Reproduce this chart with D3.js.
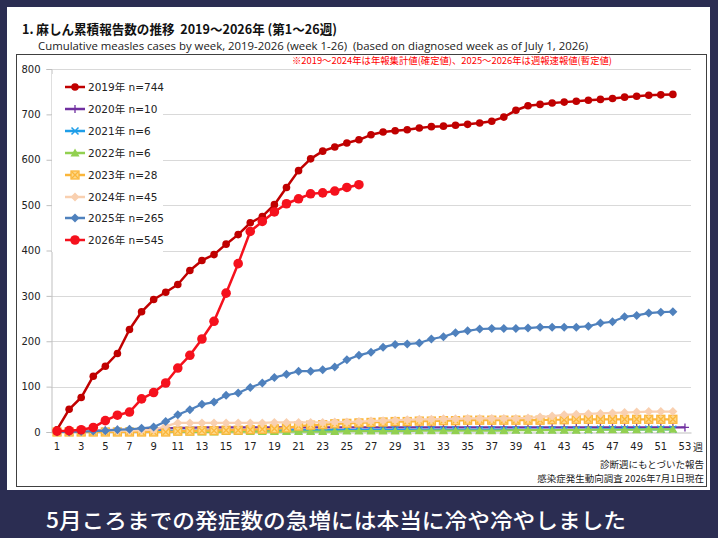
<!DOCTYPE html>
<html><head><meta charset="utf-8">
<script src="https://cdn.jsdelivr.net/npm/d3@7"></script>
<style>body{margin:0;background:#2b2d52;} svg{display:block}</style>
</head><body>
<svg id="c" width="718" height="538"></svg>
<script>
// ---- data ----
const weeks = d3.range(1, 54);
const xTickLabels = d3.range(1, 54, 2);
const yTicks = d3.range(0, 801, 100);
const seriesNames = ["2019年 n=744","2020年 n=10","2021年 n=6","2022年 n=6","2023年 n=28","2024年 n=45","2025年 n=265","2026年 n=545"];
const y2019 = [5,50,76,123,145,173,226,265,292,308,325,356,378,391,414,435,461,475,501,539,576,602,619,628,637,644,655,661,664,666,670,673,674,676,678,681,685,694,709,719,722,725,727,729,731,733,735,738,740,742,743,744];
const y2020 = [1,2,3,3,4,5,5,6,7,8,9,9,10,10,10,10,10,10,10,10,10,10,10,10,10,10,10,10,10,10,10,10,10,10,10,10,10,10,10,10,10,10,10,10,10,10,10,10,10,10,10,10,10];
const y2021 = [0,0,1,1,1,1,2,2,2,2,3,3,3,3,3,3,3,3,3,4,4,4,4,4,4,4,5,5,5,5,5,5,5,5,5,5,5,5,5,5,5,5,5,5,5,6,6,6,6,6,6,6];
const y2022 = [0,0,0,0,0,0,0,0,0,0,0,0,0,0,1,1,1,1,1,1,1,1,1,1,2,2,2,2,2,2,3,3,3,3,3,3,3,3,4,4,4,4,4,4,5,5,5,5,5,6,6,6];
const y2023 = [0,0,0,0,0,0,0,0,0,0,2,2,3,3,4,4,5,6,7,9,13,15,16,18,19,20,21,22,23,23,24,24,25,25,26,26,26,26,26,26,26,27,27,28,28,28,28,28,28,28,28,28];
const y2024 = [0,1,2,3,3,3,3,4,5,13,20,20,20,20,20,20,20,20,21,21,21,21,21,22,22,23,24,25,26,27,28,28,29,29,30,30,30,30,30,31,33,35,38,39,40,41,42,43,44,45,45,45];
const y2025 = [0,0,1,2,3,5,6,8,11,23,38,49,61,66,81,86,98,108,120,127,134,134,137,143,159,169,176,187,193,194,196,205,210,219,223,227,228,228,228,229,231,231,231,231,233,240,243,254,257,262,264,265];
const y2026 = [2,3,5,10,25,37,44,73,87,108,141,169,205,244,306,371,442,464,485,503,514,525,527,531,539,545];

const allSeries = [y2019,y2020,y2021,y2022,y2023,y2024,y2025,y2026];
const colors = ["#c00000","#7030a0","#1f9ee8","#92d050","#fbb63a","#f9d0b0","#4f81bd","#f5111d"];
const markers = ["circle","plus","times","triangle","sqx","diamond","diamond","bigcircle"];

// ---- layout ----
const svg = d3.select("#c");
svg.append("rect").attr("x",0).attr("y",0).attr("width",718).attr("height",538).attr("fill","#2b2d52");
svg.append("rect").attr("x",7).attr("y",7).attr("width",703).attr("height",483).attr("fill","#ffffff");
svg.append("rect").attr("x",16.5).attr("y",54.5).attr("width",690).attr("height",432).attr("fill","none").attr("stroke","#404040").attr("stroke-width",1);

svg.append("text").attr("x",22).attr("y",34).attr("font-family","'Noto Sans CJK JP'").attr("font-weight","bold")
  .attr("font-size",13).attr("fill","#111").attr("textLength",315).attr("lengthAdjust","spacingAndGlyphs")
  .style("white-space","pre")
  .text("1. 麻しん累積報告数の推移  2019～2026年 (第1～26週)");
svg.append("text").attr("x",38).attr("y",50).attr("font-family","'Open Sans'").attr("font-size",11.5)
  .attr("fill","#222").attr("textLength",550).attr("lengthAdjust","spacingAndGlyphs")
  .style("white-space","pre")
  .text("Cumulative measles cases by week, 2019-2026 (week 1-26)  (based on diagnosed week as of July 1, 2026)");
svg.append("text").attr("x",292).attr("y",64).attr("font-family","'Noto Sans CJK JP'").attr("font-size",9.5)
  .attr("fill","#ff0000").attr("textLength",320).attr("lengthAdjust","spacingAndGlyphs")
  .text("※2019～2024年は年報集計値(確定値)、2025～2026年は週報速報値(暫定値)");

const x = d3.scaleBand().domain(weeks).range([51,691]);
const cx = w => x(w) + x.bandwidth()/2;
const y = d3.scaleLinear().domain([0,800]).range([432,69]);

// gridlines
svg.append("g").selectAll("line").data(yTicks.filter(t=>t>0)).join("line")
  .attr("x1",51).attr("x2",691).attr("y1",d=>Math.round(y(d))+0.5).attr("y2",d=>Math.round(y(d))+0.5)
  .attr("stroke","#d9d9d9").attr("stroke-width",1);

// y axis
const yAxis = svg.append("g").attr("transform","translate(51.5,0)")
  .call(d3.axisLeft(y).tickValues(yTicks).tickSize(5).tickPadding(6));
yAxis.select(".domain").attr("stroke","#bfbfbf");
yAxis.selectAll(".tick line").attr("stroke","#bfbfbf");
yAxis.selectAll("text").attr("font-family","'DejaVu Sans'").attr("font-size",10).attr("fill","#222");

// x axis
const xAxis = svg.append("g").attr("transform","translate(0,432.5)")
  .call(d3.axisBottom(x).tickValues(xTickLabels).tickSize(0).tickPadding(10));
xAxis.select(".domain").attr("stroke","#bfbfbf");
xAxis.selectAll("text").attr("font-family","'DejaVu Sans'").attr("font-size",10).attr("fill","#222");
svg.append("text").attr("x",698).attr("y",451).attr("text-anchor","middle").attr("font-family","'Noto Sans CJK JP'")
  .attr("font-size",10).attr("fill","#222").text("週");

function drawMarker(g, type, color, px, py) {
  if (type === "circle") {
    g.append("circle").attr("cx",px).attr("cy",py).attr("r",3.8).attr("fill",color);
  } else if (type === "bigcircle") {
    g.append("circle").attr("cx",px).attr("cy",py).attr("r",4.8).attr("fill",color);
  } else if (type === "plus") {
    g.append("path").attr("d",`M${px-4},${py}H${px+4}M${px},${py-4}V${py+4}`).attr("stroke",color).attr("stroke-width",1.3);
  } else if (type === "times") {
    g.append("path").attr("d",`M${px-3.5},${py-3.5}L${px+3.5},${py+3.5}M${px-3.5},${py+3.5}L${px+3.5},${py-3.5}`).attr("stroke",color).attr("stroke-width",1.5);
  } else if (type === "triangle") {
    g.append("path").attr("d",`M${px},${py-4.5}L${px+4.5},${py+3.5}L${px-4.5},${py+3.5}Z`).attr("fill",color);
  } else if (type === "sqx") {
    g.append("rect").attr("x",px-4).attr("y",py-4).attr("width",8).attr("height",8).attr("fill","#fdd88a").attr("stroke",color).attr("stroke-width",1.3);
    g.append("path").attr("d",`M${px-3},${py-3}L${px+3},${py+3}M${px-3},${py+3}L${px+3},${py-3}`).attr("stroke",color).attr("stroke-width",1.3);
  } else if (type === "diamond") {
    g.append("path").attr("d",`M${px},${py-4.5}L${px+4.5},${py}L${px},${py+4.5}L${px-4.5},${py}Z`).attr("fill",color);
  }
}

// series
const line = d3.line().x((d,i)=>cx(i+1)).y(d=>y(d));
allSeries.forEach((s, k) => {
  const g = svg.append("g");
  g.append("path").datum(s).attr("d", line).attr("fill","none").attr("stroke",colors[k])
    .attr("stroke-width", k===0||k===7 ? 2.5 : 2.2).attr("stroke-linejoin","round");
  s.forEach((v,i) => drawMarker(g, markers[k], colors[k], cx(i+1), y(v)));
});

// legend
const lg = svg.append("g");
lg.append("rect").attr("x",52).attr("y",74).attr("width",111).attr("height",178).attr("fill","#fff");
const legendY = [87,109,131,153,175,197,218,240];
seriesNames.forEach((name,k) => {
  const ly = legendY[k];
  lg.append("line").attr("x1",65).attr("x2",85).attr("y1",ly).attr("y2",ly).attr("stroke",colors[k]).attr("stroke-width",2.5);
  drawMarker(lg, markers[k], colors[k], 75, ly);
  lg.append("text").attr("x",88).attr("y",ly+3.8).attr("font-family","'DejaVu Sans','Noto Sans CJK JP'")
    .attr("font-size",10.5).attr("fill","#222").text(name);
});

// notes
svg.append("text").attr("x",704).attr("y",468).attr("text-anchor","end").attr("font-family","'Noto Sans CJK JP'")
  .attr("font-size",9.5).attr("fill","#222").text("診断週にもとづいた報告");
svg.append("text").attr("x",704).attr("y",482).attr("text-anchor","end").attr("font-family","'Noto Sans CJK JP'")
  .attr("font-size",9.5).attr("fill","#222").text("感染症発生動向調査 2026年7月1日現在");

// caption
svg.append("text").attr("x",46).attr("y",528).attr("font-family","'Noto Sans CJK JP'").attr("font-weight","500")
  .attr("font-size",21).attr("fill","#ffffff").attr("textLength",580).attr("lengthAdjust","spacingAndGlyphs")
  .text("5月ころまでの発症数の急増には本当に冷や冷やしました");
</script>
</body></html>
